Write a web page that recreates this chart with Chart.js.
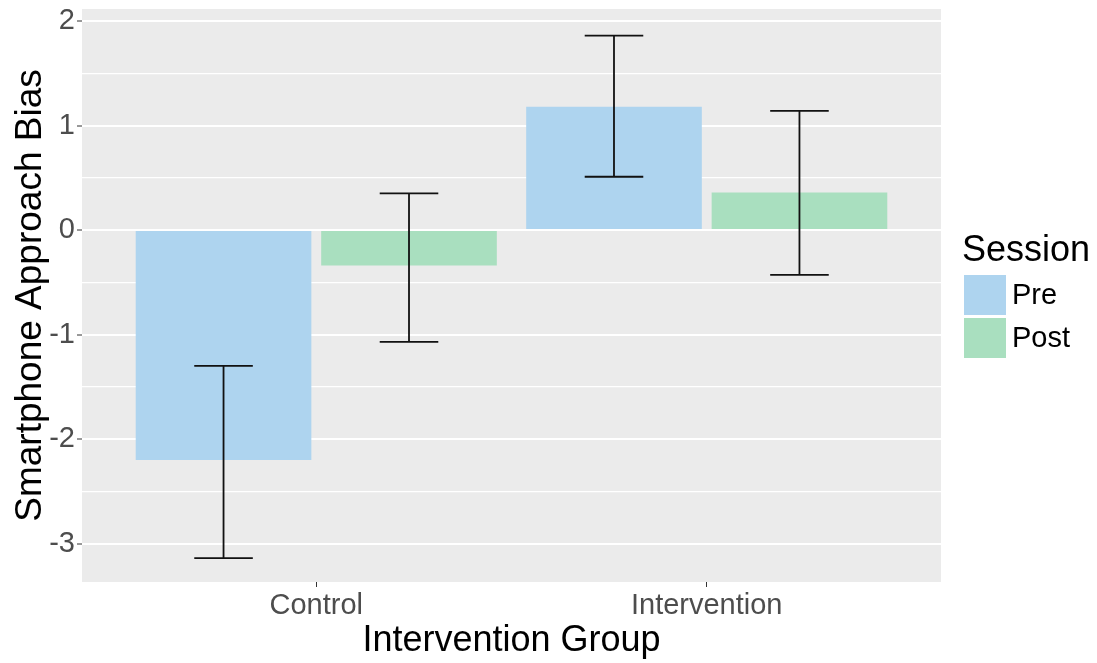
<!DOCTYPE html>
<html>
<head>
<meta charset="utf-8">
<script src="https://cdn.jsdelivr.net/npm/chart.js@4.4.1/dist/chart.umd.min.js"></script>
<style>
  html, body { margin: 0; padding: 0; background: #fff; }
</style>
</head>
<body>
<canvas id="biasChart" width="1097" height="663"></canvas>
<script>
const groups = ["Control", "Intervention"];
const sessions = ["Pre", "Post"];
const preMeans = [-2.2, 1.18];
const postMeans = [-0.34, 0.36];
const preLower = [-3.14, 0.51];
const preUpper = [-1.3, 1.86];
const postLower = [-1.07, -0.43];
const postUpper = [0.35, 1.14];
const yMajorTicks = [-3, -2, -1, 0, 1, 2];
const yMinorTicks = [-2.5, -1.5, -0.5, 0.5, 1.5];
const sessionColors = ["#AED4EF", "#A9DFBF"];

const FONT = "'Liberation Sans', Arial, sans-serif";

// grey panel behind the gridlines
const panelBg = {
  id: "panelBg",
  beforeDraw(chart) {
    const { ctx, chartArea: a } = chart;
    ctx.save();
    ctx.fillStyle = "#EBEBEB";
    ctx.fillRect(a.left, a.top, a.right - a.left, a.bottom - a.top);
    ctx.restore();
  }
};

// whiskers with caps, centred on each bar
const errorBars = {
  id: "errorBars",
  afterDatasetsDraw(chart) {
    const { ctx, scales: { x, y } } = chart;
    const capHalf = x.getPixelForValue(1.075) - x.getPixelForValue(1);
    ctx.save();
    ctx.strokeStyle = "#111111";
    ctx.lineWidth = 1.8;
    chart.data.datasets.forEach((ds, di) => {
      chart.getDatasetMeta(di).data.forEach((bar, i) => {
        const lo = y.getPixelForValue(ds.errLow[i]);
        const hi = y.getPixelForValue(ds.errHigh[i]);
        ctx.beginPath();
        ctx.moveTo(bar.x, lo);
        ctx.lineTo(bar.x, hi);
        ctx.moveTo(bar.x - capHalf, lo);
        ctx.lineTo(bar.x + capHalf, lo);
        ctx.moveTo(bar.x - capHalf, hi);
        ctx.lineTo(bar.x + capHalf, hi);
        ctx.stroke();
      });
    });
    ctx.restore();
  }
};

// legend in the right margin
const sessionLegend = {
  id: "sessionLegend",
  afterDraw(chart) {
    const ctx = chart.ctx;
    ctx.save();
    ctx.textBaseline = "middle";
    ctx.textAlign = "left";
    ctx.fillStyle = "#000";
    ctx.font = "36px " + FONT;
    ctx.fillText("Session", 962, 251);
    ctx.font = "29px " + FONT;
    chart.data.datasets.forEach((ds, i) => {
      const top = 275 + i * 43;
      ctx.fillStyle = ds.backgroundColor;
      ctx.fillRect(964, top, 42, 40);
      ctx.fillStyle = "#000";
      ctx.fillText(ds.label, 1012, top + 21);
    });
    ctx.restore();
  }
};

const isMajor = v => yMajorTicks.includes(v);

new Chart(document.getElementById("biasChart"), {
  type: "bar",
  data: {
    datasets: [
      {
        label: sessions[0],
        data: preMeans.map((v, i) => ({ x: i + 1, y: v })),
        backgroundColor: sessionColors[0],
        errLow: preLower,
        errHigh: preUpper
      },
      {
        label: sessions[1],
        data: postMeans.map((v, i) => ({ x: i + 1, y: v })),
        backgroundColor: sessionColors[1],
        errLow: postLower,
        errHigh: postUpper
      }
    ]
  },
  options: {
    responsive: false,
    animation: false,
    categoryPercentage: 0.95,
    barPercentage: 0.947,
    borderWidth: 0,
    layout: { padding: { top: 9, right: 156, left: 0, bottom: 0 } },
    plugins: {
      legend: { display: false },
      tooltip: { enabled: false }
    },
    scales: {
      x: {
        type: "linear",
        min: 0.4,
        max: 2.6,
        offset: false,
        afterBuildTicks: scale => {
          scale.ticks = groups.map((g, i) => ({ value: i + 1 }));
        },
        afterFit: scale => {
          scale.height = 81;
          scale.paddingLeft = 0;
          scale.paddingRight = 0;
        },
        ticks: {
          color: "#4D4D4D",
          font: { family: FONT, size: 29 },
          padding: 2,
          maxRotation: 0,
          callback: v => groups[v - 1]
        },
        grid: {
          offset: false,
          drawOnChartArea: false,
          tickLength: 5,
          tickColor: "#333333",
          tickWidth: 1
        },
        border: { display: false },
        title: {
          display: true,
          text: "Intervention Group",
          color: "#000",
          font: { family: FONT, size: 36, lineHeight: 1 },
          padding: { top: 0, bottom: 4 }
        }
      },
      y: {
        min: -3.368,
        max: 2.115,
        afterBuildTicks: scale => {
          scale.ticks = [...yMajorTicks, ...yMinorTicks]
            .sort((a, b) => a - b)
            .map(v => ({ value: v }));
        },
        afterFit: scale => {
          scale.width = 82;
          scale.paddingTop = 0;
          scale.paddingBottom = 0;
        },
        ticks: {
          color: "#4D4D4D",
          font: { family: FONT, size: 29 },
          padding: 2,
          callback: v => (isMajor(v) ? String(v) : "")
        },
        grid: {
          color: "#FFFFFF",
          lineWidth: c => (isMajor(c.tick.value) ? 2 : 1.3),
          tickLength: 5,
          tickColor: c => (isMajor(c.tick.value) ? "#333333" : "rgba(0,0,0,0)"),
          tickWidth: 1
        },
        border: { display: false },
        title: {
          display: true,
          text: "Smartphone Approach Bias",
          color: "#000",
          font: { family: FONT, size: 37, lineHeight: 1 },
          padding: { top: 12, bottom: 0 }
        }
      }
    }
  },
  plugins: [panelBg, errorBars, sessionLegend]
});
</script>
</body>
</html>
